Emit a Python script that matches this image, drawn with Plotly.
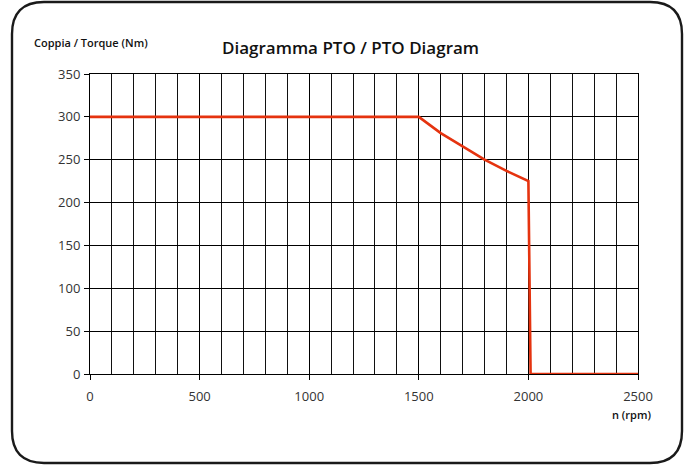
import plotly.graph_objects as go

rpm = [0, 1500, 1600, 1700, 1800, 1900, 2000, 2010, 2500]
torque = [300, 300, 281, 265, 250, 237, 225, 0, 0]

x_ticks = [0, 500, 1000, 1500, 2000, 2500]
y_ticks = [0, 50, 100, 150, 200, 250, 300, 350]

title_text = "Diagramma PTO / PTO Diagram"
y_title = "Coppia / Torque (Nm)"
x_title = "n (rpm)"

W, H = 684, 465
def px(x):
    return x / W
def py(y):
    return 1 - y / H

fig = go.Figure()
fig.add_trace(go.Scatter(x=rpm, y=torque, mode="lines",
                         line=dict(color="#e5330f", width=2.6),
                         hoverinfo="skip", showlegend=False))

# rounded border
x0, x1, y0, y1, r = 12, 682, 2, 463, 32
path = (f"M {px(x0+r)} {py(y0)} L {px(x1-r)} {py(y0)} Q {px(x1)} {py(y0)} {px(x1)} {py(y0+r)} "
        f"L {px(x1)} {py(y1-r)} Q {px(x1)} {py(y1)} {px(x1-r)} {py(y1)} "
        f"L {px(x0+r)} {py(y1)} Q {px(x0)} {py(y1)} {px(x0)} {py(y1-r)} "
        f"L {px(x0)} {py(y0+r)} Q {px(x0)} {py(y0)} {px(x0+r)} {py(y0)} Z")
fig.add_shape(type="path", path=path, xref="paper", yref="paper",
              line=dict(color="#1a1a1a", width=2.4), layer="above")

tickfont = dict(family="Open Sans", size=13, color="#333333")
fig.update_layout(
    width=W, height=H,
    margin=dict(l=0, r=0, t=0, b=0, autoexpand=False),
    paper_bgcolor="white", plot_bgcolor="white",
    xaxis=dict(domain=[px(90), px(638)], range=[0, 2500], tickvals=x_ticks,
               automargin=False, ticklabelstandoff=5,
               showgrid=True, gridcolor="#000000", gridwidth=1,
               minor=dict(dtick=100, showgrid=True, gridcolor="#111111", gridwidth=1, ticks=""),
               ticks="outside", ticklen=5, tickcolor="#000", tickwidth=1,
               showline=True, linecolor="#000", linewidth=1, mirror=True,
               zeroline=False, tickfont=tickfont, fixedrange=True),
    yaxis=dict(domain=[py(374), py(74)], range=[0, 350], tickvals=y_ticks,
               automargin=False, ticklabelstandoff=1,
               showgrid=True, gridcolor="#000000", gridwidth=1,
               ticks="outside", ticklen=5, tickcolor="#000", tickwidth=1,
               showline=True, linecolor="#000", linewidth=1, mirror=True,
               zeroline=False, tickfont=tickfont, fixedrange=True),
    annotations=[
        dict(text=title_text, x=px(350), y=py(47), xref="paper", yref="paper",
             showarrow=False, xanchor="center", yanchor="middle",
             font=dict(family="Open Sans", size=17, color="#111111", weight=600)),
        dict(text=y_title, x=px(32), y=py(42), xref="paper", yref="paper",
             showarrow=False, xanchor="left", yanchor="middle",
             font=dict(family="Open Sans", size=11, color="#111111", weight=600)),
        dict(text=x_title, x=px(653), y=py(414), xref="paper", yref="paper",
             showarrow=False, xanchor="right", yanchor="middle",
             font=dict(family="Open Sans", size=11, color="#111111", weight=600)),
    ],
)

fig.write_html("out.html", config={"displayModeBar": False},
               post_script="document.body.style.margin='0';document.body.style.overflow='hidden';")
